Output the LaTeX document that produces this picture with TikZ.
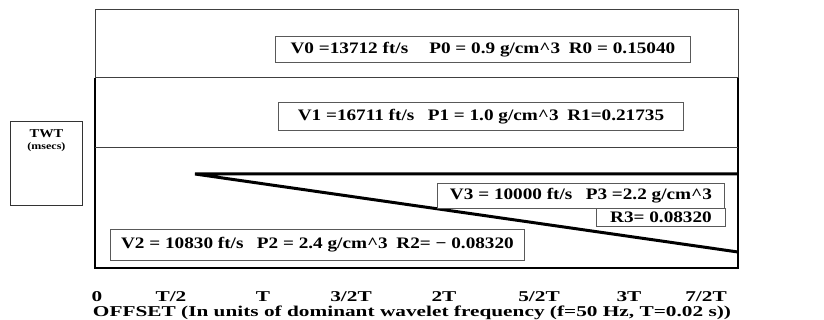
\documentclass[tikz,border=0pt]{standalone}
\usepackage{graphicx}
\usepackage{fontspec}
\setmainfont{Liberation Serif}
\newcommand{\hstretch}[1]{\scalebox{1.2}[1]{#1}}
\newcommand{\wstretch}[1]{\scalebox{1.42}[1]{#1}}
\begin{document}
\begin{tikzpicture}[x=1pt,y=-1pt,
  lbox/.style={draw=black!65, line width=0.9pt, anchor=north west, inner sep=0pt, font=\fontsize{16}{18}\selectfont\bfseries, align=center},
  frame/.style={line width=1.6pt, black},
  thin/.style={line width=1pt, black!75},
  thick/.style={line width=3pt, black},
  tick/.style={font=\fontsize{15}{16}\selectfont\bfseries, anchor=base, inner sep=0pt}]
\useasboundingbox (0,0) rectangle (824,320);
% frame
\draw[thin] (95,78) -- (95,10) -- (738,10) -- (738,78);
\draw[frame] (95,78) -- (95,268) -- (738,268) -- (738,78);
\coordinate (l1a) at (95,78); \coordinate (l1b) at (738,78);
\coordinate (l2a) at (95,148); \coordinate (l2b) at (738,148);
\draw[thin] (l1a) -- (l1b);
\draw[thin] (l2a) -- (l2b);
% wedge
\coordinate (wA) at (195,174);
\coordinate (wB) at (738,174);
\coordinate (wC) at (738,252);
\draw[thick] (wB) -- (wA) -- (wC);
% boxes
\node[lbox, minimum width=415, minimum height=26] (v0) at (275,36)
  {\hstretch{V0 =13712 ft/s\hspace{1.1em}P0 = 0.9 g/cm\textasciicircum3\hspace{0.45em}R0 = 0.15040}};
\node[lbox, minimum width=405, minimum height=28] (v1) at (278,102)
  {\hstretch{V1 =16711 ft/s\hspace{0.7em}P1 = 1.0 g/cm\textasciicircum3\hspace{0.45em}R1=0.21735}};
\node[lbox, fill=white, minimum width=287, minimum height=25] (v3) at (437,183)
  {\hstretch{V3 = 10000 ft/s\hspace{0.7em}P3 =2.2 g/cm\textasciicircum3}};
\node[lbox, fill=white, minimum width=129, minimum height=18] (r3) at (596,208)
  {\hstretch{R3= 0.08320}};
\node[lbox, minimum width=414, minimum height=31] (v2) at (110,229)
  {\hstretch{V2 = 10830 ft/s\hspace{0.7em}P2 = 2.4 g/cm\textasciicircum3\hspace{0.45em}R2= − 0.08320}};
\node[draw=black!80, line width=0.9pt, anchor=north west, minimum width=72, minimum height=84, inner sep=0pt,
  font=\fontsize{12}{13}\selectfont\bfseries, align=center] (twt) at (10,121)
  {\hstretch{TWT}\\[-1pt]\hstretch{\fontsize{10}{11}\selectfont (msecs)}\\[34pt]};
% ticks
\node[tick] (t0) at (97,301) {\wstretch{0}};
\node[tick] (t1) at (171,301) {\wstretch{T/2}};
\node[tick] (t2) at (263,301) {\wstretch{T}};
\node[tick] (t3) at (351,301) {\wstretch{3/2T}};
\node[tick] (t4) at (444,301) {\wstretch{2T}};
\node[tick] (t5) at (539,301) {\wstretch{5/2T}};
\node[tick] (t6) at (629,301) {\wstretch{3T}};
\node[tick] (t7) at (706,301) {\wstretch{7/2T}};
\node[tick] (cap) at (412,316) {\wstretch{OFFSET (In units of dominant wavelet frequency (f=50 Hz, T=0.02 s))}};
\end{tikzpicture}
\end{document}
